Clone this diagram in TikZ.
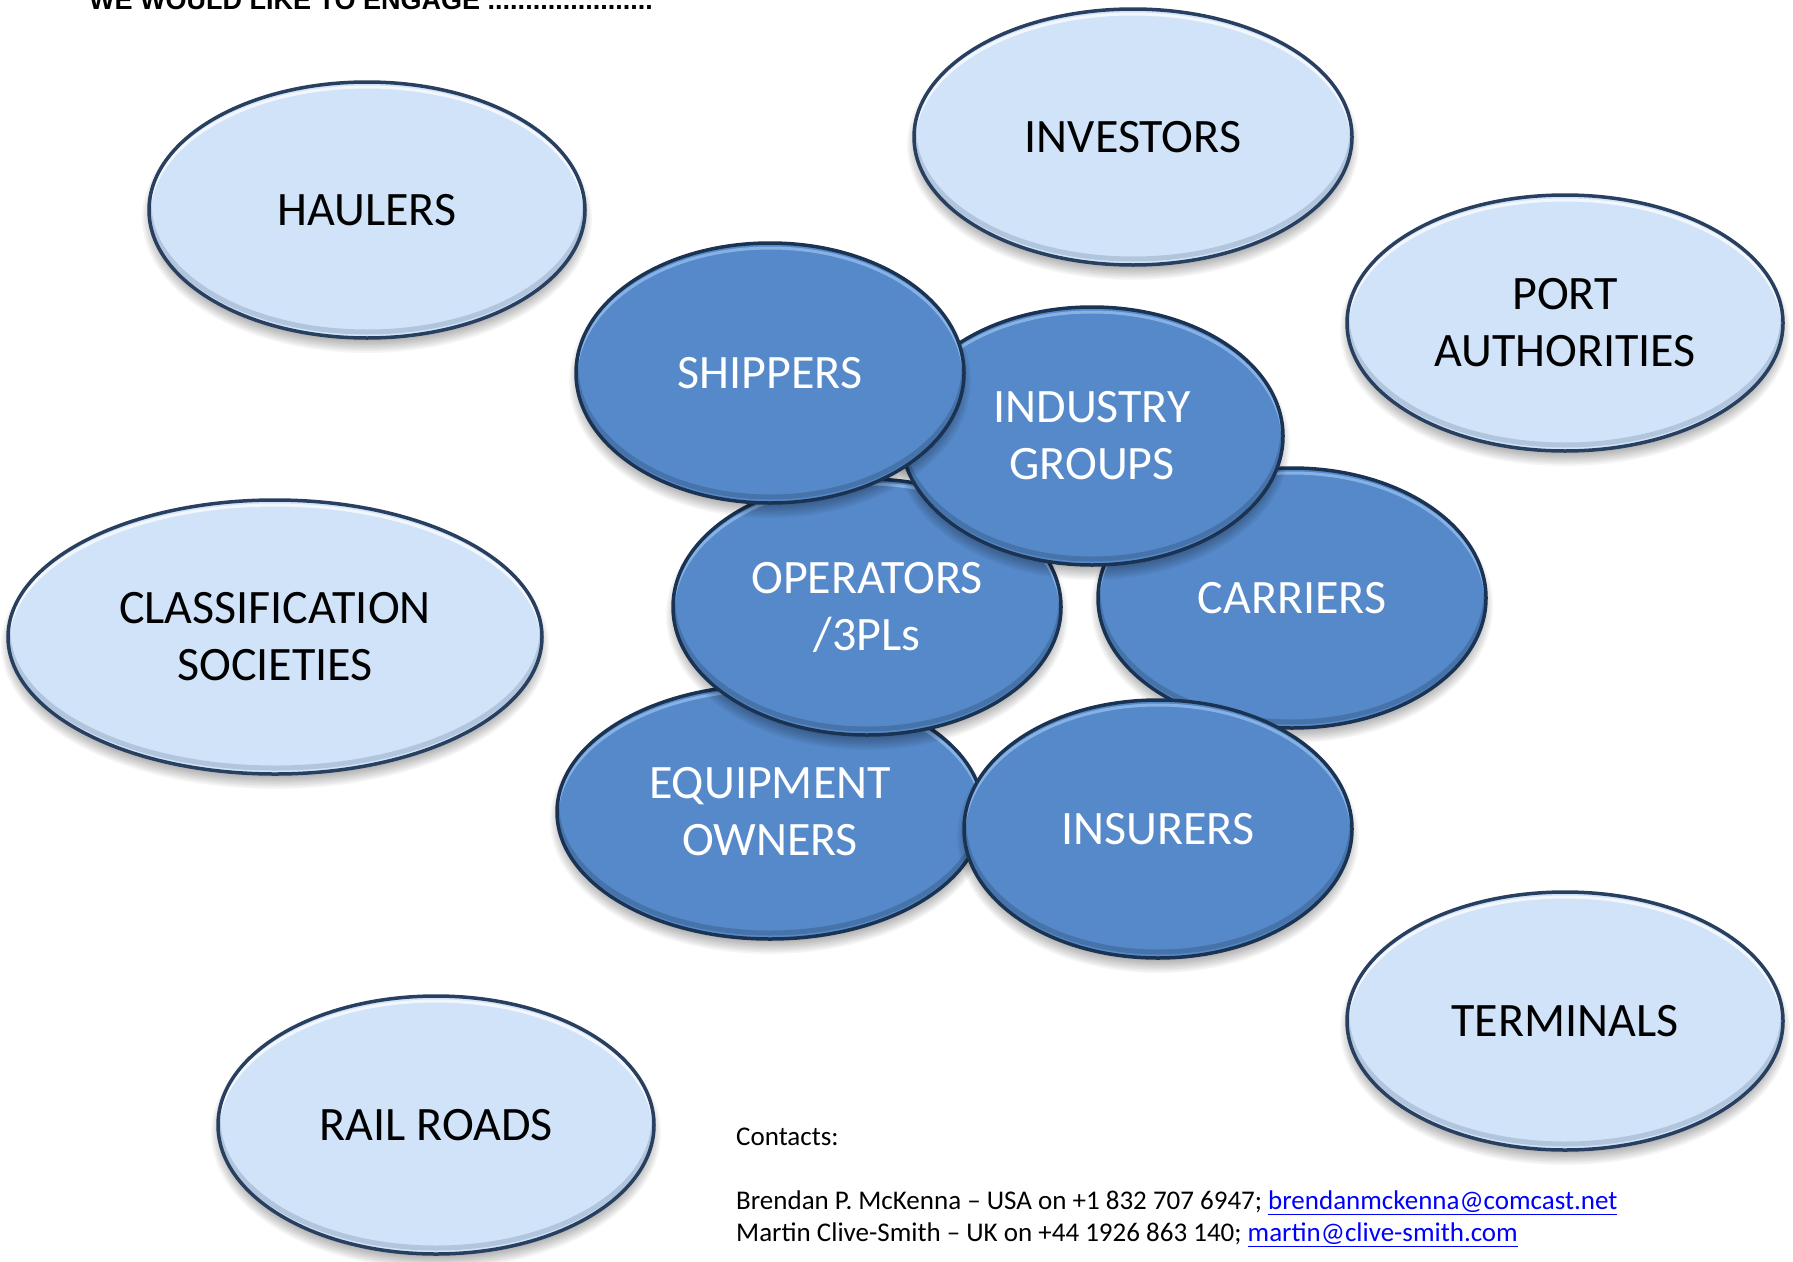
\documentclass[tikz,border=0pt]{standalone}
\usepackage{fontspec}
\setmainfont{Carlito}
\newfontfamily\headfont{Liberation Sans}
\usetikzlibrary{shapes.geometric,calc}
\definecolor{lfill}{HTML}{D0E3F9}
\definecolor{lrim}{HTML}{A2BAD8}
\definecolor{ledge}{HTML}{283F60}
\definecolor{dfill}{HTML}{5689C9}
\definecolor{drim}{HTML}{3E679B}
\definecolor{dedge}{HTML}{1B3352}
\definecolor{dhigh}{HTML}{92BBEC}
\definecolor{linkblue}{HTML}{0000FF}
\pgfdeclareradialshading{lightbev}{\pgfpoint{0bp}{0bp}}{color(0bp)=(lfill); color(43bp)=(lfill); color(49bp)=(lrim); color(50bp)=(ledge); color(100bp)=(ledge)}
\pgfdeclareradialshading{darkbev}{\pgfpoint{0bp}{0bp}}{color(0bp)=(dfill); color(44bp)=(dfill); color(49bp)=(drim); color(50bp)=(dedge); color(100bp)=(dedge)}
\tikzset{
  bubbase/.style={ellipse, inner sep=0pt, line width=3.5pt, align=center,
    font=\fontsize{48}{57}\selectfont},
  hilite/.style n args={2}{path picture={
    \draw[#1,line width=3pt] let \p1=($(path picture bounding box.north east)-(path picture bounding box.center)$) in
      ([yshift=-5pt]path picture bounding box.center) ellipse [x radius=\x1, y radius=\y1];
    \draw[#2,line width=5pt] let \p1=($(path picture bounding box.north east)-(path picture bounding box.center)$) in
      ([yshift=6pt]path picture bounding box.center) ellipse [x radius=\x1, y radius=\y1];}},
  bubL/.style={bubbase, draw=ledge, shading=lightbev, text=black,
    hilite={white,opacity=.75}{ledge,opacity=.18}},
  bubD/.style={bubbase, draw=dedge, shading=darkbev, text=white,
    hilite={dhigh,opacity=.8}{dedge,opacity=.25}},
  shad/.style={fill=black, opacity=0.04},
  contact/.style={anchor=north west, align=left, inner sep=0pt, font=\fontsize{27}{32}\selectfont},
  head/.style={anchor=base west, inner sep=0pt, font=\headfont\bfseries\fontsize{27}{30}\selectfont}
}
\newcommand\bub[7]{%
  \foreach \k in {0,...,7}{\path[shad] (#2,#3+8) ellipse [x radius={#4pt-5pt+1.7pt*\k}, y radius={#5pt-5pt+1.7pt*\k}];}
  \node[#6, minimum width={2*#4pt}, minimum height={2*#5pt}] (#1) at (#2,#3) {#7};
}
\begin{document}
\begin{tikzpicture}[x=1pt,y=-1pt]
\useasboundingbox (0,0) rectangle (1793,1261);
\fill[white] (0,0) rectangle (1793,1261);
\node[head] (title) at (89,9) {WE WOULD LIKE TO ENGAGE ......................};
% light outer ellipses
\bub{haulers}{367}{210}{218}{128}{bubL}{HAULERS}
\bub{investors}{1133}{137}{219}{128}{bubL}{INVESTORS}
\bub{port}{1565}{323}{218}{128}{bubL}{PORT\\AUTHORITIES}
\bub{class}{275}{637}{267}{137}{bubL}{CLASSIFICATION\\SOCIETIES}
\bub{rail}{436}{1125}{218}{129}{bubL}{RAIL ROADS}
\bub{terminals}{1565}{1021}{218}{129}{bubL}{TERMINALS}
% dark central ellipses
\bub{equip}{770}{812}{213}{127}{bubD}{EQUIPMENT\\OWNERS}
\bub{carriers}{1292}{598}{194}{130}{bubD}{CARRIERS}
\bub{operators}{867}{607}{194}{128}{bubD}{OPERATORS\\/3PLs}
\bub{insurers}{1158}{829}{194}{129}{bubD}{INSURERS}
\bub{industry}{1092}{436}{191}{129}{bubD}{INDUSTRY\\GROUPS}
\bub{shippers}{770}{373}{194}{130}{bubD}{SHIPPERS}
% contacts
\node[contact] (contacts) at (736,1128) {Contacts:\\[32pt]
Brendan P. McKenna -- USA on +1 832 707 6947; \textcolor{linkblue}{\underline{brendanmckenna@comcast.net}}\\
Martin Clive-Smith -- UK on +44 1926 863 140; \textcolor{linkblue}{\underline{martin@clive-smith.com}}};
\end{tikzpicture}
\end{document}
